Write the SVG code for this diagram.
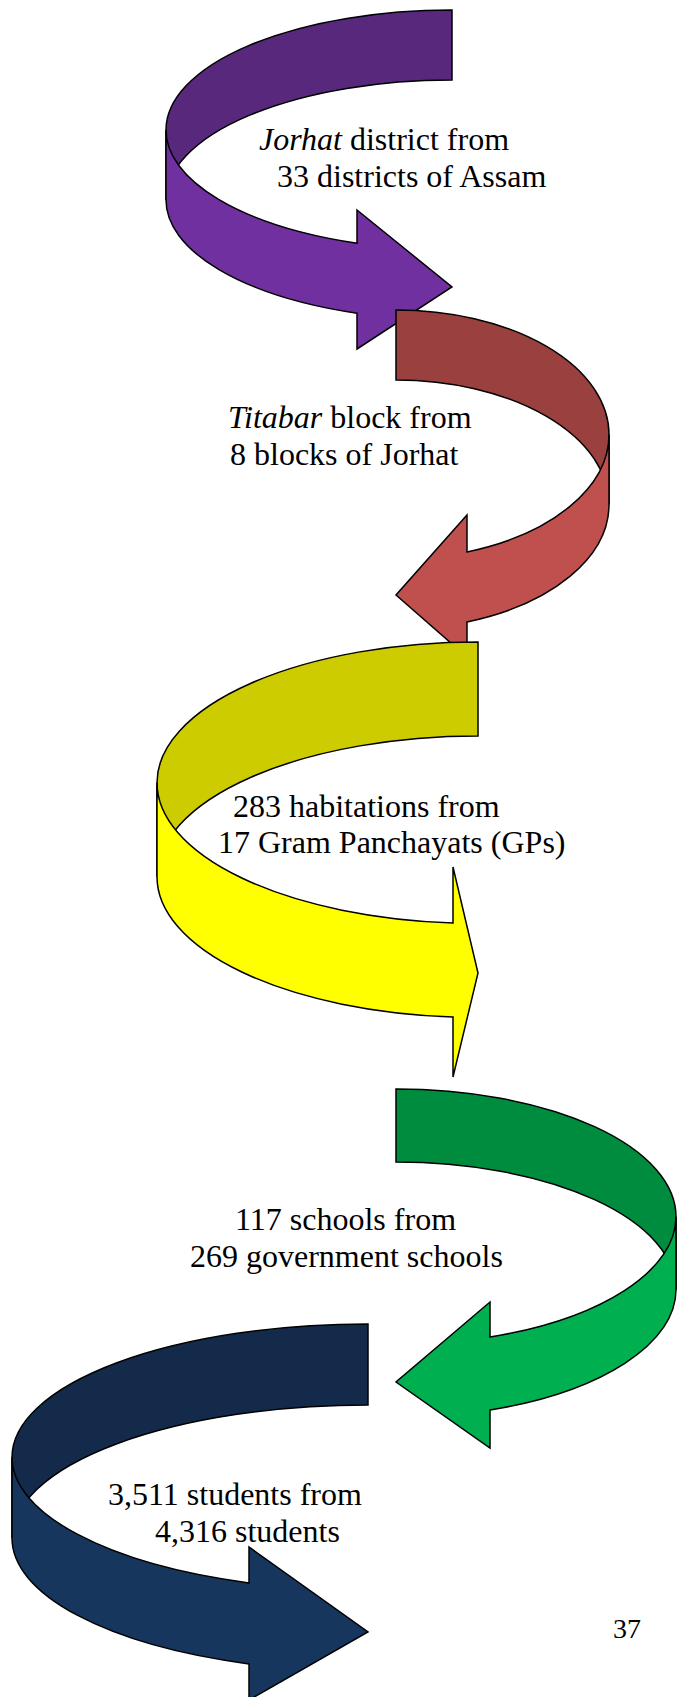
<svg xmlns="http://www.w3.org/2000/svg" width="677" height="1697" viewBox="0 0 677 1697">
<style>
.o{stroke:#000;stroke-width:1.5;stroke-linejoin:miter}
.t{font-family:"Liberation Serif","Times New Roman",serif;font-size:32px;fill:#000}
.i{font-style:italic}
</style>
<rect width="677" height="1697" fill="#fff"/>
<g id="arrow-jorhat">
<path class="o" fill="#58287C" d="M452,10 A286,120 0 0 0 166,130 L166,200 A286,120 0 0 1 452,80 Z"/>
<path class="o" fill="#7030A0" d="M166,130 A286,120 0 0 0 357,243.2 L357,210 L452,287 L357,349 L357,313.2 A286,120 0 0 1 166,200 Z"/>
</g>
<g id="arrow-titabar">
<path class="o" fill="#9A403E" d="M396,310 A213,124.5 0 0 1 609,434.5 L609,504.5 A213,124.5 0 0 0 396,380 Z"/>
<path class="o" fill="#C0504D" d="M609,434.5 A213,124.5 0 0 1 467,551.9 L467,515 L396,595 L467,657 L467,621.9 A213,124.5 0 0 0 609,504.5 Z"/>
</g>
<g id="arrow-habitations">
<path class="o" fill="#CCCC00" d="M478,642 A321,140.7 0 0 0 157,782.7 L157,876.7 A321,140.7 0 0 1 478,736 Z"/>
<path class="o" fill="#FFFF00" d="M157,782.7 A321,140.7 0 0 0 453,923 L453,867 L478,973 L453,1077 L453,1017 A321,140.7 0 0 1 157,876.7 Z"/>
</g>
<g id="arrow-schools">
<path class="o" fill="#008C3F" d="M396,1089 A280,127.7 0 0 1 676,1216.7 L676,1289.7 A280,127.7 0 0 0 396,1162 Z"/>
<path class="o" fill="#00B050" d="M676,1216.7 A280,127.7 0 0 1 490,1337 L490,1302 L396,1382 L490,1448 L490,1410 A280,127.7 0 0 0 676,1289.7 Z"/>
</g>
<g id="arrow-students">
<path class="o" fill="#132A4A" d="M368,1324 A356,133.3 0 0 0 12,1457.3 L12,1538.3 A356,133.3 0 0 1 368,1405 Z"/>
<path class="o" fill="#17365D" d="M12,1457.3 A356,133.3 0 0 0 249,1582.9 L249,1547 L368,1632 L249,1700 L249,1663.9 A356,133.3 0 0 1 12,1538.3 Z"/>
</g>
<g id="labels">
<text class="t" x="259" y="150"><tspan class="i">Jorhat</tspan> district from</text>
<text class="t" x="277" y="187">33 districts of Assam</text>
<text class="t" x="228" y="428"><tspan class="i">Titabar</tspan> block from</text>
<text class="t" x="230" y="465">8 blocks of Jorhat</text>
<text class="t" x="233" y="817">283 habitations from</text>
<text class="t" x="218" y="853">17 Gram Panchayats (GPs)</text>
<text class="t" x="235" y="1230">117 schools from</text>
<text class="t" x="190" y="1267">269 government schools</text>
<text class="t" x="108" y="1505">3,511 students from</text>
<text class="t" x="155" y="1542">4,316 students</text>
<text class="t" x="613" y="1638" style="font-size:28px">37</text>
</g>
</svg>
